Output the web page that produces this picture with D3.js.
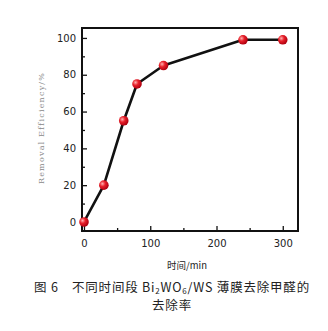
<!DOCTYPE html>
<html><head><meta charset="utf-8">
<script src="https://cdn.jsdelivr.net/npm/d3@7"></script>
<style>body{margin:0;background:#fff}svg{display:block}</style>
</head><body>
<svg id="c" width="328" height="331"></svg>
<script>
const times = [0, 30, 60, 80, 120, 240, 300];
const efficiency = [0, 20, 55, 75, 85, 99, 99];
const xTicks = [0, 100, 200, 300];
const yTicks = [0, 20, 40, 60, 80, 100];
const xMinor = [50, 150, 250];
const yMinor = [10, 30, 50, 70, 90];

const svg = d3.select("#c");
const L = 82, R = 298, T = 28, B = 231;
const x = d3.scaleLinear().domain([-3, 323]).range([L, R]);
const y = d3.scaleLinear().domain([-4.9, 105.4]).range([B, T]);

const defs = svg.append("defs");
const g = defs.append("radialGradient").attr("id","rg").attr("cx","35%").attr("cy","35%").attr("r","65%");
g.append("stop").attr("offset","0%").attr("stop-color","#ffb0b0");
g.append("stop").attr("offset","45%").attr("stop-color","#e8202a");
g.append("stop").attr("offset","100%").attr("stop-color","#b00010");

const font = "'DejaVu Sans', sans-serif";
svg.append("g").attr("transform",`translate(0,${B})`)
  .call(d3.axisBottom(x).tickValues(xTicks).tickSizeInner(-5).tickSizeOuter(0).tickPadding(9));
svg.append("g").attr("transform",`translate(0,${B})`)
  .call(d3.axisBottom(x).tickValues(xMinor).tickSizeInner(-3).tickSizeOuter(0).tickFormat(""));
svg.append("g").attr("transform",`translate(${L},0)`)
  .call(d3.axisLeft(y).tickValues(yTicks).tickSizeInner(-5).tickSizeOuter(0).tickPadding(6));
svg.append("g").attr("transform",`translate(${L},0)`)
  .call(d3.axisLeft(y).tickValues(yMinor).tickSizeInner(-3).tickSizeOuter(0).tickFormat(""));
svg.selectAll(".domain").remove();
svg.selectAll(".tick line").attr("stroke","#111").attr("stroke-width",1.3);
svg.selectAll(".tick text").attr("font-family",font).attr("font-size",10).attr("fill","#222");

svg.append("rect").attr("x",L).attr("y",T).attr("width",R-L).attr("height",B-T)
  .attr("fill","none").attr("stroke","#111").attr("stroke-width",2);

const line = d3.line().x((d,i)=>x(times[i])).y(d=>y(d));
svg.append("path").datum(efficiency).attr("d",line).attr("fill","none")
  .attr("stroke","#111").attr("stroke-width",2.6).attr("stroke-linejoin","round");

svg.selectAll("circle.pt").data(efficiency).enter().append("circle")
  .attr("cx",(d,i)=>x(times[i])).attr("cy",d=>y(d)).attr("r",4.8)
  .attr("fill","url(#rg)");

svg.append("text").attr("transform","translate(44,128) rotate(-90)")
  .attr("text-anchor","middle").attr("font-family","'DejaVu Serif', serif")
  .attr("font-size",8).attr("letter-spacing",1.2).attr("fill","#888").text("Removal  Efficiency/%");

svg.append("text").attr("x",187).attr("y",269).attr("text-anchor","middle")
  .attr("font-family","'Noto Sans CJK SC', sans-serif").attr("font-size",9.5).attr("fill","#222").text("时间/min");

const cap = svg.append("text").attr("x",172).attr("y",292).attr("text-anchor","middle")
  .attr("font-family","'Noto Sans CJK SC', sans-serif").attr("font-size",12.5).attr("letter-spacing",0.8).attr("fill","#222");
cap.append("tspan").text("图 6　不同时间段 Bi");
cap.append("tspan").attr("font-size",8).attr("dy",2).text("2");
cap.append("tspan").attr("dy",-2).text("WO");
cap.append("tspan").attr("font-size",8).attr("dy",2).text("6");
cap.append("tspan").attr("dy",-2).text("/WS 薄膜去除甲醛的");
svg.append("text").attr("x",172).attr("y",310).attr("text-anchor","middle")
  .attr("font-family","'Noto Sans CJK SC', sans-serif").attr("font-size",12.5).attr("letter-spacing",0.8).attr("fill","#222").text("去除率");
</script>
</body></html>
